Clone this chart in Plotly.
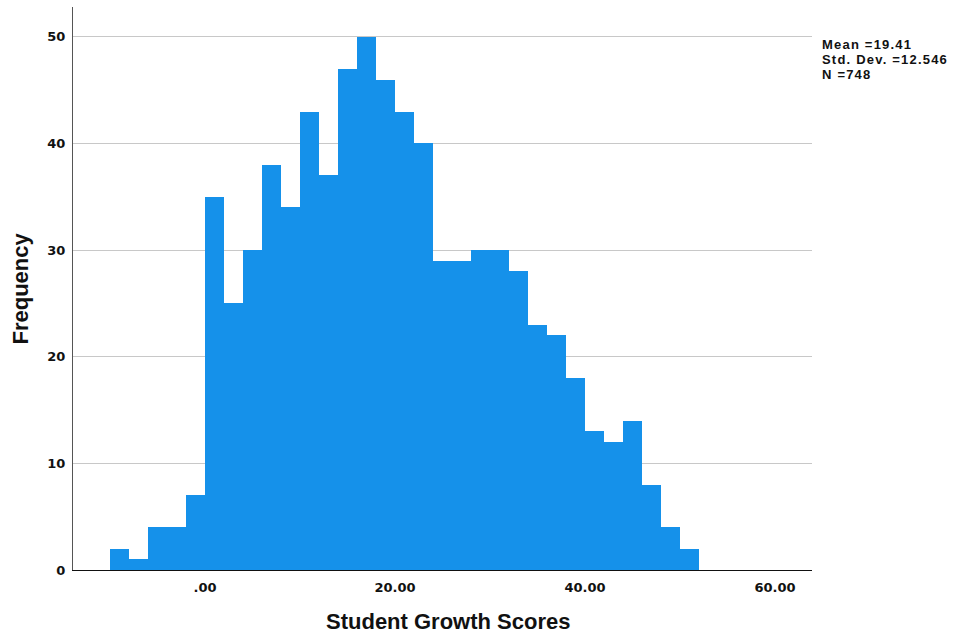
import plotly.graph_objects as go

# Histogram of student growth scores (bin width 2, first bin starts at -10)
bin_start = -10
bin_width = 2
counts = [2, 1, 4, 4, 7, 35, 25, 30, 38, 34, 43, 37, 47, 50, 46, 43, 40,
          29, 29, 30, 30, 28, 23, 22, 18, 13, 12, 14, 8, 4, 2]

x_tick_vals = [0, 20, 40, 60]
x_tick_text = [".00", "20.00", "40.00", "60.00"]
y_tick_vals = [0, 10, 20, 30, 40, 50]

stats_lines = ["Mean =19.41", "Std. Dev. =12.546", "N =748"]

centers = [bin_start + bin_width * (i + 0.5) for i in range(len(counts))]

FONT = "Liberation Sans, Arial, sans-serif"
TICK_FONT = "DejaVu Sans, Verdana, sans-serif"
BAR = "#1591EA"

fig = go.Figure()
fig.add_trace(go.Bar(
    x=centers, y=counts, width=[bin_width] * len(counts),
    marker=dict(color=BAR, line=dict(width=0)),
    hoverinfo="x+y", showlegend=False,
))

fig.update_layout(
    width=953, height=635,
    margin=dict(l=73, r=141, t=7, b=65),
    paper_bgcolor="white", plot_bgcolor="white",
    bargap=0,
    font=dict(family=FONT, color="#111"),
)

fig.update_xaxes(
    range=[-13.9, 63.9],
    tickvals=x_tick_vals, ticktext=x_tick_text,
    tickfont=dict(family=TICK_FONT, size=13, color="#111", weight="bold"),
    showgrid=False, zeroline=False,
    showline=True, linecolor="#111", linewidth=1,
    ticks="", ticklabelstandoff=5,
)
fig.update_yaxes(
    range=[0, 52.8],
    tickvals=y_tick_vals,
    tickfont=dict(family=TICK_FONT, size=13, color="#111", weight="bold"),
    showgrid=True, gridcolor="#c8c8c8", gridwidth=1,
    zeroline=False,
    showline=True, linecolor="#555", linewidth=1,
    ticks="", ticklabelstandoff=4,
)

# Axis titles
fig.add_annotation(
    text="<b>Student Growth Scores</b>", xref="paper", yref="paper",
    x=0.51, xshift=-2, y=0, yshift=-51, xanchor="center", yanchor="middle",
    showarrow=False, font=dict(family=FONT, size=22, color="#111"),
)
fig.add_annotation(
    text="<b>Frequency</b>", xref="paper", yref="paper",
    x=0, xshift=-53, y=0.5, textangle=-90, xanchor="center", yanchor="middle",
    showarrow=False, font=dict(family=FONT, size=22, color="#111"),
)

# Summary statistics block
for i, line in enumerate(stats_lines):
    fig.add_annotation(
        text=f"<b><span style='letter-spacing:1.2px'>{line}</span></b>",
        xref="paper", yref="paper",
        x=1, xshift=9, y=1, yshift=-37 - 15 * i,
        xanchor="left", yanchor="middle", showarrow=False,
        borderpad=0,
        font=dict(family=FONT, size=13, color="#111"),
    )

fig.write_html("out.html")
